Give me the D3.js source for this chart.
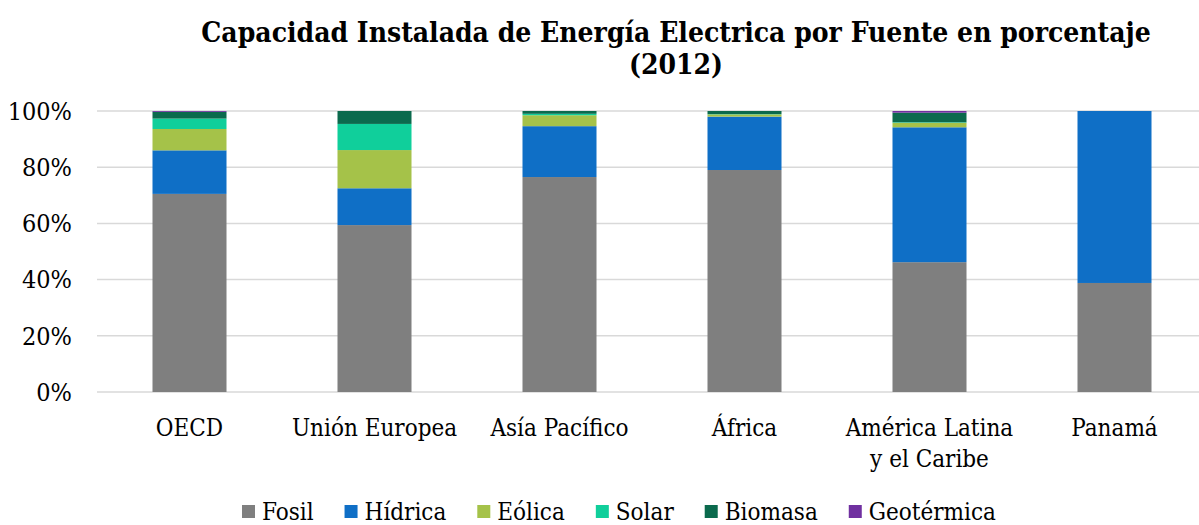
<!DOCTYPE html>
<html>
<head>
<meta charset="utf-8">
<script src="https://cdn.jsdelivr.net/npm/d3@7"></script>
<style>
  body { margin: 0; background: #fff; }
  text { font-family: "DejaVu Serif Condensed", "DejaVu Serif", serif; fill: #000; }
</style>
</head>
<body>
<svg width="1199" height="525"></svg>
<script>
// data (percent of installed capacity, 2012)
var regions = ["OECD", "Unión Europea", "Asía Pacífico", "África", "América Latina|y el Caribe", "Panamá"];
var sources = ["Fosil", "Hídrica", "Eólica", "Solar", "Biomasa", "Geotérmica"];
var fosil      = [70.5, 59.4, 76.5, 79.0, 46.2, 38.8];
var hidrica    = [15.5, 13.1, 18.1, 19.0, 48.0, 61.2];
var eolica     = [7.6, 13.6, 3.9, 0.8, 1.6, 0];
var solar      = [3.7, 9.3, 0.5, 0.1, 0.2, 0];
var biomasa    = [2.4, 4.6, 1.0, 1.1, 3.4, 0];
var geotermica = [0.3, 0, 0, 0, 0.6, 0];
var yTicks = [0, 20, 40, 60, 80, 100];
var colors = ["#7f7f7f", "#0f6fc6", "#a5c249", "#10cf9b", "#0b6a4d", "#7030a0"];

var svg = d3.select("svg"),
    width = +svg.attr("width"),
    height = +svg.attr("height");

var series = [fosil, hidrica, eolica, solar, biomasa, geotermica];
var rows = regions.map(function(r, i) {
  var o = { region: r };
  sources.forEach(function(s, j) { o[s] = series[j][i]; });
  return o;
});
var stacked = d3.stack().keys(sources)(rows);

var x = d3.scaleBand().domain(regions).range([97, 1207]).paddingInner(0.6).paddingOuter(0.3);
var y = d3.scaleLinear().domain([0, 100]).range([392, 111]);
var color = d3.scaleOrdinal().domain(sources).range(colors);

// gridlines
svg.append("g")
  .selectAll("line")
  .data(yTicks)
  .enter()
  .append("line")
    .attr("x1", 97).attr("x2", width)
    .attr("y1", function(d){ return y(d) }).attr("y2", function(d){ return y(d) })
    .attr("stroke", "#d9d9d9").attr("stroke-width", 1.5)

// y labels
svg.append("g")
  .selectAll("text")
  .data(yTicks)
  .enter()
  .append("text")
    .attr("x", 72)
    .attr("y", function(d){ return y(d) })
    .attr("dy", "0.35em")
    .attr("text-anchor", "end")
    .style("font-size", "25px")
    .text(function(d){ return d + "%" })

// bars
svg.append("g")
  .selectAll("g")
  .data(stacked)
  .enter()
  .append("g")
    .attr("fill", function(d){ return color(d.key) })
  .selectAll("rect")
  .data(function(d){ return d })
  .enter()
  .append("rect")
    .attr("x", function(d){ return x(d.data.region) })
    .attr("width", x.bandwidth())
    .attr("y", function(d){ return y(d[1]) })
    .attr("height", function(d){ return y(d[0]) - y(d[1]) })

// category labels
var cat = svg.append("g")
  .selectAll("text")
  .data(regions)
  .enter()
  .append("text")
    .attr("text-anchor", "middle")
    .attr("x", function(d){ return x(d) + x.bandwidth() / 2 })
    .attr("y", 436)
    .style("font-size", "24px")
cat.selectAll("tspan")
  .data(function(d){ return d.split("|") })
  .enter()
  .append("tspan")
    .attr("x", function(){ var p = this.parentNode.__data__; return x(p) + x.bandwidth() / 2 })
    .attr("dy", function(d, i){ return i ? 31 : 0 })
    .text(function(d){ return d })

// title
var title = svg.append("text")
  .attr("text-anchor", "middle")
  .attr("x", 676)
  .attr("y", 42)
  .style("font-size", "28px")
  .style("font-weight", "bold")
title.append("tspan").attr("x", 676).text("Capacidad Instalada de Energía Electrica por Fuente en porcentaje")
title.append("tspan").attr("x", 676).attr("dy", 32).text("(2012)")

// legend, laid out one item after the other
var legX = 242;
sources.forEach(function(s) {
  var g = svg.append("g").attr("transform", "translate(" + legX + ",512)");
  g.append("rect")
    .attr("x", 0).attr("y", -7).attr("width", 13).attr("height", 13)
    .attr("fill", color(s));
  var t = g.append("text")
    .attr("x", 20).attr("y", 0).attr("dy", "0.35em")
    .style("font-size", "24px")
    .text(s);
  legX += 20 + t.node().getComputedTextLength() + 31;
});
</script>
</body>
</html>
